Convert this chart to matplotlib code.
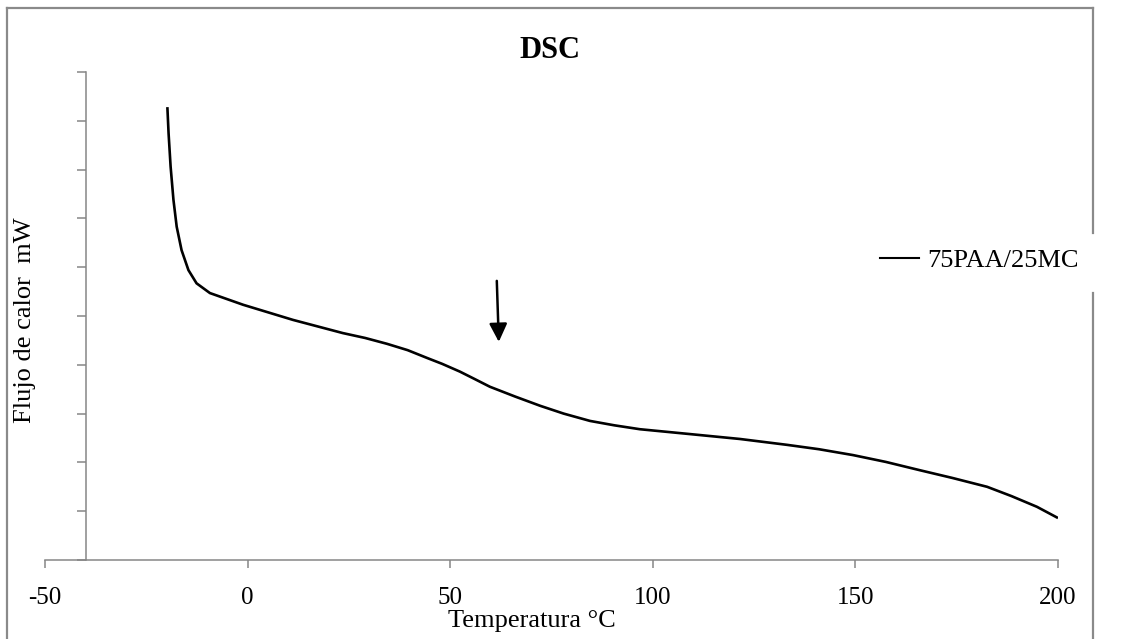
import matplotlib
matplotlib.use("Agg")
import matplotlib.pyplot as plt
from matplotlib.lines import Line2D

# ---- data ----
temperature = [-19.8, -19.5, -19.0, -18.3, -17.5, -16.3, -14.6, -12.6, -9.3, -5.2,
               -1.1, 11.2, 23.5, 29.0, 34.4, 39.5, 44.3, 48.0, 52.4, 56.0,
               59.8, 66.0, 72.2, 78.0, 84.5, 90.5, 96.8, 103.0, 109.2, 121.5,
               133.1, 141.0, 149.4, 157.5, 165.9, 174.0, 182.5, 188.5, 194.8, 200.0]
heat_flow = [9.28, 8.74, 8.06, 7.38, 6.83, 6.35, 5.94, 5.67, 5.47, 5.35,
             5.23, 4.92, 4.65, 4.55, 4.43, 4.30, 4.14, 4.02, 3.86, 3.71,
             3.55, 3.35, 3.16, 3.00, 2.85, 2.76, 2.68, 2.63, 2.58, 2.48,
             2.36, 2.27, 2.15, 2.01, 1.84, 1.68, 1.50, 1.31, 1.09, 0.86]
series_label = "75PAA/25MC"
x_ticks = [-50, 0, 50, 100, 150, 200]
y_ticks = list(range(0, 11))
arrow_start = (61.5, 5.72)
arrow_end = (62.0, 4.47)

W, H = 1130, 639
fig = plt.figure(figsize=(W / 100, H / 100), dpi=100)
plt.rcParams['font.family'] = ['Liberation Serif', 'DejaVu Serif']

ax = fig.add_axes([45 / W, 79 / H, 1013 / W, 488 / H])
ax.patch.set_visible(False)
axis_color = '#868686'

ax.plot(temperature, heat_flow, color='black', lw=1.9, solid_capstyle='butt',
        solid_joinstyle='round', label=series_label)
ax.set_xlim(-50, 200)
ax.set_ylim(0, 10)
ax.set_xticks(x_ticks)
ax.set_xticklabels([str(v) for v in x_ticks])
ax.set_yticks(y_ticks)
ax.set_yticklabels([])

for s in ['top', 'right']:
    ax.spines[s].set_visible(False)
ax.spines['left'].set_position(('data', -40))
ax.spines['bottom'].set_position(('data', 0))
for s in ['left', 'bottom']:
    ax.spines[s].set_color(axis_color)
    ax.spines[s].set_linewidth(1.1)
ax.tick_params(axis='x', direction='out', length=5.5, width=1.1, color=axis_color,
               labelsize=18, pad=14, labelcolor='black')
ax.tick_params(axis='y', direction='out', length=6.5, width=1.1, color=axis_color)

ax.annotate('', xy=arrow_end, xytext=arrow_start,
            arrowprops=dict(arrowstyle='-|>,head_length=0.55,head_width=0.27',
                            color='black', lw=1.8, mutation_scale=20,
                            shrinkA=0, shrinkB=0))

# texts
fig.text(550 / W, 1 - 58 / H, 'DSC', ha='center', va='baseline',
         fontsize=22, fontweight='bold')
fig.text(532 / W, 1 - 627 / H, 'Temperatura °C', ha='center', va='baseline',
         fontsize=19)
fig.text(25 / W, 1 - 320 / H, 'Flujo de calor  mW', ha='center', va='center',
         rotation=90, fontsize=19)

# legend
handle = Line2D([], [], color='black', lw=1.5)
fig.legend([handle], [series_label], loc='center left',
           bbox_to_anchor=(869 / W, 1 - 260 / H), frameon=False,
           fontsize=19, handlelength=1.5, handletextpad=0.3,
           borderaxespad=0, borderpad=0.4)

# outer border (chart area frame)
bc = '#8a8a8a'
blw = 1.6
fig.add_artist(Line2D([7 / W, 7 / W], [0, 1 - 8 / H], transform=fig.transFigure,
                      color=bc, lw=blw, zorder=-1))
fig.add_artist(Line2D([7 / W, 1093 / W], [1 - 8 / H, 1 - 8 / H], transform=fig.transFigure,
                      color=bc, lw=blw, zorder=-1))
fig.add_artist(Line2D([1093 / W, 1093 / W], [1 - 8 / H, 1 - 233 / H], transform=fig.transFigure,
                      color=bc, lw=blw, zorder=-1))
fig.add_artist(Line2D([1093 / W, 1093 / W], [1 - 293 / H, 0], transform=fig.transFigure,
                      color=bc, lw=blw, zorder=-1))

fig.savefig('out.png', dpi=100)
